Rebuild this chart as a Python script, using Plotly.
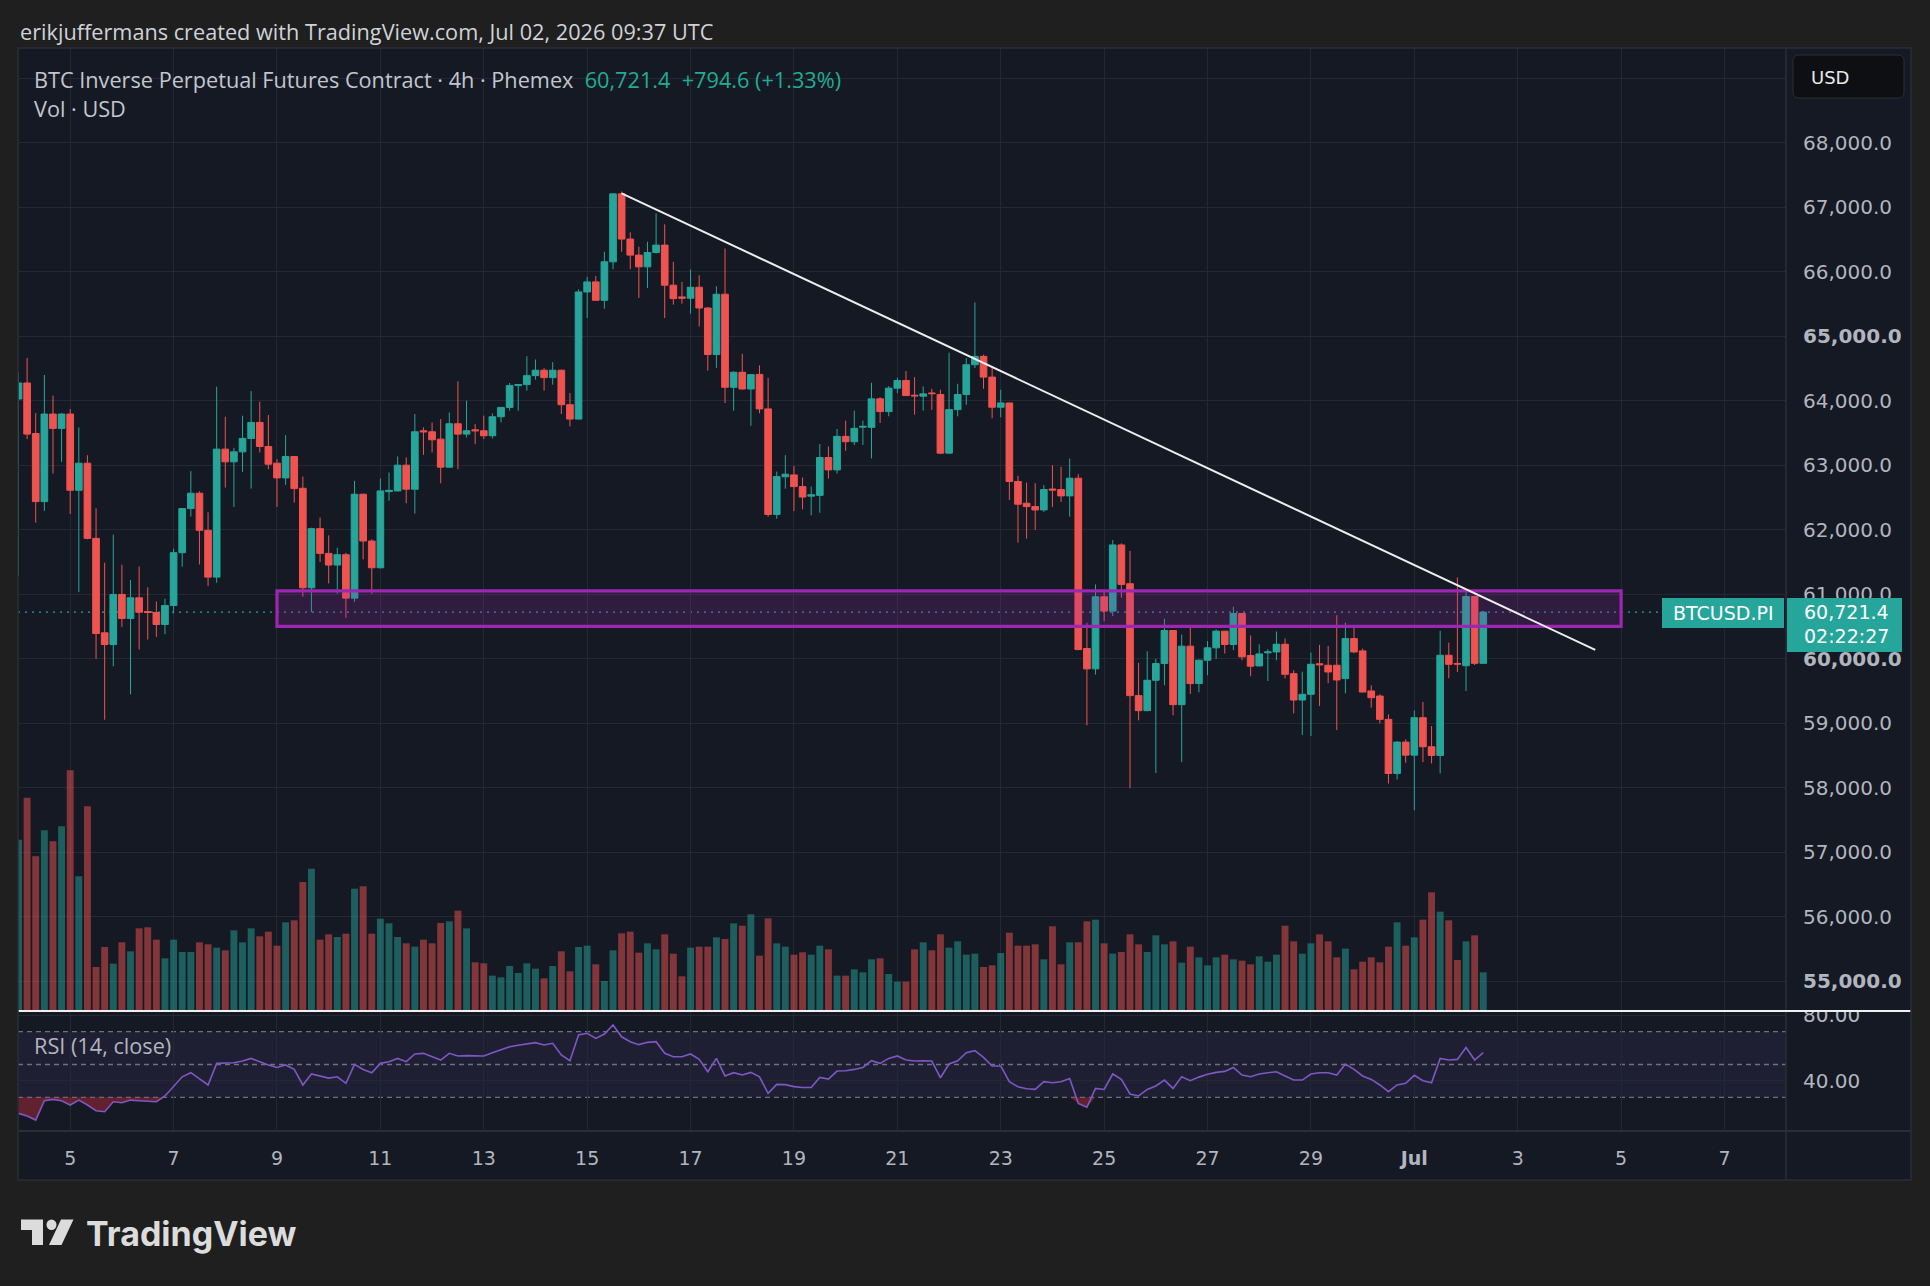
import plotly.graph_objects as go
import pandas as pd

W, H = 1930, 1286

# ---------------- data ----------------
BAR_START = "2026-06-04 00:00"
BAR_FREQ = "4h"

OPEN = [64026,64275,63492,62435,63793,63570,63793,62611,63031,61865,
        60400,60218,60995,60622,60943,60730,60715,60529,60824,61643,
        62327,62565,61990,61264,63249,63052,63207,63415,63663,63290,
        63031,62803,63135,62642,61099,62016,61632,61451,61612,60938,
        62549,61824,61409,62590,62601,63000,62627,63533,63518,63404,
        62969,63643,63482,63549,63534,63456,63751,63896,64234,64250,
        64389,64473,64358,64473,63938,63715,65687,65843,65557,66154,
        67208,66507,66258,66076,66299,66413,65791,65610,65590,65760,
        65438,64716,65651,64208,64441,64182,64408,63873,62236,62820,
        62849,62668,62520,62532,63119,62927,63447,63364,63590,63587,
        64029,63831,64195,64314,64085,64070,64120,64096,63187,63862,
        64096,64558,64688,64366,63899,63964,62747,62410,62358,62306,
        62630,62622,62524,62798,60157,59841,60960,60737,61763,61162,
        59426,59193,59664,59924,60436,59286,60193,59613,59975,60167,
        60426,60219,60700,60048,59887,60090,60104,60223,59767,59358,
        59446,59920,59897,59897,59690,60311,60120,59498,59420,59058,
        58218,58705,58503,59084,58633,58498,60052,59925,59890,60964,
        59926.8]
HIGH = [64440,64663,63808,64399,64078,63808,63870,63586,63155,62332,
        61487,61922,61456,61218,61430,61104,60886,60928,61705,62330,
        62907,62596,62270,64218,63751,63269,63767,64150,63984,63777,
        63093,63466,63140,62824,62030,62187,61912,61720,61643,62757,
        62560,61850,62793,62886,63135,63119,63793,63586,63663,63715,
        63819,64300,64000,63637,63767,63803,63900,64275,64260,64690,
        64639,64504,64597,64483,64120,65728,65920,65936,66310,67215,
        67244,66611,66388,66465,66907,66735,66154,65843,66035,65946,
        65450,65775,66362,64457,64727,64410,64548,64356,62901,63156,
        62990,62808,62668,63327,63291,63561,63691,63847,63691,64278,
        64055,64226,64356,64460,64366,64221,64184,64169,64745,64262,
        64662,65525,64714,64538,64169,63970,62835,62731,62721,62690,
        63000,62975,63104,62861,60556,61151,61032,61840,61788,61669,
        59934,60115,59996,60618,60440,60374,60478,59986,60271,60452,
        60430,60804,60705,60359,60223,60146,60420,60311,59819,59798,
        60094,60213,60197,60674,60560,60482,60156,59586,59446,59135,
        58721,58747,59197,59327,58954,60430,60249,61259,61068,60974,
        60741]
LOW = [61280,63404,62109,62290,62870,63052,62244,61031,61850,59995,
       59052,59881,60492,59446,60140,60296,60337,60378,60700,61425,
       62202,61461,61124,61176,62653,62352,62896,62637,63197,62938,
       62352,62694,62420,60959,60720,61498,61166,61005,60632,60881,
       61539,61005,61400,62446,62595,62410,62249,63161,63197,62720,
       62960,62938,63430,63326,63404,63415,63663,63845,63844,64156,
       64327,64156,64249,63793,63601,63710,65282,65550,65427,66040,
       66310,66040,65594,65749,66284,65282,65490,65505,65350,65152,
       64467,64509,63964,63844,64171,63611,63805,62200,62169,62636,
       62288,62314,62221,62262,62792,62870,63223,63312,63312,63104,
       63655,63758,64117,64075,63784,63847,63857,63171,63180,63758,
       63935,64506,64184,63727,63743,62462,61799,61861,61996,62275,
       62353,62431,62203,60130,58965,59753,60581,60659,60944,57991,
       59043,59185,58225,59587,59121,58395,59452,59478,59742,59996,
       60079,60131,59975,59727,59880,59653,59975,59695,59151,58814,
       58799,59265,59617,58892,59462,60083,59475,59239,58996,58063,
       58125,58384,57649,58395,58374,58218,59695,59793,59498,59900,
       59920]
CLOSE = [64275,63482,62435,63793,63570,63793,62611,63031,61865,60389,
         60218,60995,60622,60943,60720,60715,60529,60824,61643,62327,
         62565,61990,61264,63249,63052,63207,63415,63663,63290,63016,
         62803,63135,62637,61099,62016,61632,61451,61612,60938,62549,
         61824,61409,62601,62610,63000,62627,63518,63518,63394,62969,
         63643,63482,63534,63534,63456,63751,63896,64234,64250,64389,
         64473,64358,64473,63938,63715,65687,65843,65557,66154,67208,
         66507,66258,66076,66299,66413,65791,65583,65590,65760,65438,
         64716,65651,64208,64441,64182,64405,63873,62236,62823,62860,
         62668,62506,62540,63119,62927,63447,63364,63571,63602,64029,
         63831,64195,64314,64080,64075,64106,64110,63187,63862,64096,
         64558,64688,64366,63899,63966,62747,62395,62358,62306,62622,
         62615,62524,62798,60141,59841,60960,60737,61763,61151,59426,
         59193,59664,59924,60436,59286,60193,59613,59975,60167,60426,
         60219,60700,60027,59882,60073,60104,60223,59757,59358,59446,
         59912,59905,59793,59669,60311,60104,59482,59394,59058,58218,
         58705,58503,59084,58633,58498,60052,59912,59915,60964,59926.8,
         60721.4]
VOLUME = [51.4,64.0,46.4,54.2,50.9,55.4,72.2,40.4,61.4,13.2,
          19.2,14.2,20.6,17.9,24.8,25.1,21.4,15.8,21.4,17.7,
          17.7,20.6,20.0,19.0,18.2,24.2,20.6,24.8,22.4,23.8,
          19.6,26.6,27.2,38.7,42.7,21.4,23.0,22.2,23.2,36.7,
          37.4,23.2,27.7,26.3,22.2,20.3,19.3,21.4,20.3,26.4,
          26.9,30.1,24.8,14.6,14.3,10.6,10.1,13.5,11.4,14.3,
          12.7,9.8,13.5,17.9,11.9,19.2,19.6,14.0,9.0,18.2,
          23.3,23.8,17.5,20.3,18.5,23.0,17.2,10.4,19.0,19.3,
          19.3,22.1,21.6,26.3,25.6,29.0,16.6,27.8,20.3,19.3,
          16.9,17.6,16.9,19.6,18.5,10.6,10.6,12.5,11.6,15.5,
          15.8,11.1,8.8,8.8,18.5,20.6,18.2,23.0,19.0,20.9,
          16.9,17.2,13.2,13.7,17.4,23.5,19.6,19.6,20.0,15.5,
          25.4,14.0,20.6,20.6,26.9,27.4,20.3,17.2,17.7,23.0,
          20.0,17.7,22.7,20.0,20.9,14.5,19.3,16.1,13.7,16.1,
          16.9,15.5,15.1,14.0,16.4,14.8,16.9,25.6,20.9,17.2,
          20.3,23.0,20.9,16.1,18.7,12.5,14.8,16.1,14.6,19.3,
          26.6,19.6,22.1,27.4,35.6,29.8,27.2,15.3,20.9,22.7,
          11.6]
RSI = [20.2,18.6,16.1,27.9,28.7,27.9,25.3,28.3,25.3,21.8,
       21.2,27.3,26.7,28.3,27.9,27.5,27.3,30.8,36.9,42.5,
       45.0,41.5,37.5,50.7,50.7,51.1,52.1,53.7,51.7,49.7,
       48.2,49.7,47.0,37.5,44.2,43.0,41.7,42.5,38.5,50.1,
       47.0,45.0,50.7,51.7,53.7,51.7,56.4,56.8,54.7,52.7,
       56.8,55.2,55.4,55.4,55.2,57.2,58.8,60.8,61.7,62.5,
       63.3,61.9,62.9,55.8,52.3,68.0,69.0,65.9,68.6,74.1,
       66.9,63.9,62.1,63.5,63.9,56.8,54.7,54.7,56.4,53.1,
       45.6,53.7,43.0,45.0,43.6,45.2,42.5,32.4,37.9,37.7,
       36.5,36.0,36.0,42.1,41.1,46.0,46.2,47.0,48.2,52.3,
       50.7,53.7,55.2,52.7,52.1,52.3,52.1,41.9,50.3,52.3,
       57.2,58.4,54.3,49.1,49.1,39.5,36.4,35.2,34.8,39.5,
       38.9,39.5,41.5,26.3,23.9,35.4,34.8,44.2,40.9,32.0,
       30.8,34.8,36.9,40.5,35.4,42.5,40.1,42.3,44.0,45.2,
       45.8,48.2,43.6,42.5,44.2,45.0,45.6,43.0,40.5,40.5,
       44.2,45.0,45.0,43.6,50.3,47.0,43.0,40.9,37.5,33.4,
       37.5,38.5,43.4,40.1,38.9,53.7,52.7,53.1,60.4,52.7,
       57.2]

DAY_TICKS = ["2026-06-05", "2026-06-07", "2026-06-09", "2026-06-11", "2026-06-13",
             "2026-06-15", "2026-06-17", "2026-06-19", "2026-06-21", "2026-06-23",
             "2026-06-25", "2026-06-27", "2026-06-29", "2026-07-01", "2026-07-03",
             "2026-07-05", "2026-07-07"]
DAY_LABELS = ["5", "7", "9", "11", "13", "15", "17", "19", "21", "23", "25", "27",
              "29", "<b>Jul</b>", "3", "5", "7"]
PRICE_TICKS = [55000, 56000, 57000, 58000, 59000, 60000, 61000, 62000,
               63000, 64000, 65000, 66000, 67000, 68000, 69000]
PRICE_LABELS = ["<b>55,000.0</b>", "56,000.0", "57,000.0", "58,000.0", "59,000.0",
                "<b>60,000.0</b>", "61,000.0", "62,000.0", "63,000.0", "64,000.0",
                "<b>65,000.0</b>", "66,000.0", "67,000.0", "68,000.0", ""]
RSI_TICKS = [40, 80]
RSI_LABELS = ["40.00", "80.00"]
RSI_LEVELS = [70, 50, 30]
ZONE_TIMES = ["2026-06-09 00:00", "2026-07-05 00:00"]
ZONE_PRICES = [60500, 61050]
TREND_TIMES = ["2026-06-15 16:00", "2026-07-04 12:00"]
TREND_PRICES = [67217, 60135]
SYMBOL = "BTCUSD.PI"
TITLE = "BTC Inverse Perpetual Futures Contract \u00b7 4h \u00b7 Phemex"
CREDIT = "erikjuffermans created with TradingView.com, Jul 02, 2026 09:37 UTC"
COUNTDOWN = "02:22:27"

# ---------------- style ----------------
OUTER = "#1f1f1f"
PANEL = "#151924"
GRID = "#242833"
SEP = "#2a2e39"
UP = "#26a69a"
DOWN = "#ef5350"
TXT = "#b2b5be"
PRICE_FONT = dict(family="DejaVu Sans", size=20, color=TXT)
DATE_FONT = dict(family="DejaVu Sans", size=19, color=TXT)
UI_FONT = "Open Sans"
UI_SIZE = 21.7


def px(x):
    return x / W


def py(y):
    return 1 - y / H


times = pd.date_range(BAR_START, periods=len(CLOSE), freq=BAR_FREQ)
XRANGE = ["2026-06-03 23:46", "2026-07-08 04:33"]
XDOM = [px(18), px(1786)]
PRICE_DOM = [py(1011), py(48)]
RSI_DOM = [py(1131), py(1012)]

last = CLOSE[-1]
chg = CLOSE[-1] - CLOSE[-2]
pct = chg / CLOSE[-2] * 100

fig = go.Figure()

vol_colors = ["rgba(38,166,154,0.5)" if c >= o else "rgba(239,83,80,0.5)"
              for o, c in zip(OPEN, CLOSE)]
fig.add_trace(go.Bar(x=times, y=VOLUME, marker=dict(color=vol_colors, line=dict(width=0)),
                     xaxis="x", yaxis="y3", hoverinfo="skip"))

fig.add_trace(go.Candlestick(
    x=times, open=OPEN, high=HIGH, low=LOW, close=CLOSE, xaxis="x", yaxis="y",
    increasing=dict(line=dict(color=UP, width=1), fillcolor=UP),
    decreasing=dict(line=dict(color=DOWN, width=1), fillcolor=DOWN),
    whiskerwidth=0, hoverinfo="skip"))

# RSI oversold fill
fig.add_trace(go.Scatter(x=times, y=[30] * len(RSI), mode="lines", line=dict(width=0),
                         xaxis="x2", yaxis="y2", hoverinfo="skip"))
fig.add_trace(go.Scatter(x=times, y=[min(v, 30) for v in RSI], mode="lines",
                         line=dict(width=0), fill="tonexty",
                         fillcolor="rgba(190,45,60,0.45)",
                         xaxis="x2", yaxis="y2", hoverinfo="skip"))
fig.add_trace(go.Scatter(x=times, y=RSI, mode="lines", line=dict(color="#7e57c2", width=1.6),
                         xaxis="x2", yaxis="y2", hoverinfo="skip"))

shapes = []
# panel background
shapes.append(dict(type="rect", xref="paper", yref="paper", x0=px(18), x1=px(1911),
                   y0=py(1180), y1=py(48), fillcolor=PANEL, line=dict(width=0), layer="below"))
# RSI band and levels
shapes.append(dict(type="rect", xref="x2 domain", yref="y2", x0=0, x1=1,
                   y0=RSI_LEVELS[2], y1=RSI_LEVELS[0], fillcolor="rgba(126,87,194,0.1)",
                   line=dict(width=0), layer="below"))
for lv in RSI_LEVELS:
    shapes.append(dict(type="line", xref="x2 domain", yref="y2", x0=0, x1=1, y0=lv, y1=lv,
                       line=dict(color="rgba(120,123,134,0.9)", width=1.3, dash="5px,4px"),
                       layer="below"))
# last price dotted line
shapes.append(dict(type="line", xref="paper", yref="y", x0=px(18), x1=px(1662), y0=last, y1=last,
                   line=dict(color=UP, width=1.3, dash="2px,5px"), layer="below"))
# zone rectangle
shapes.append(dict(type="rect", xref="x", yref="y", x0=ZONE_TIMES[0], x1=ZONE_TIMES[1],
                   y0=ZONE_PRICES[0], y1=ZONE_PRICES[1], fillcolor="rgba(156,39,176,0.2)",
                   line=dict(color="#9c27b0", width=3.2), layer="above"))
# trend line
shapes.append(dict(type="line", xref="x", yref="y", x0=TREND_TIMES[0], x1=TREND_TIMES[1],
                   y0=TREND_PRICES[0], y1=TREND_PRICES[1],
                   line=dict(color="#eeeeee", width=2), layer="above"))
# separators
shapes.append(dict(type="line", xref="paper", yref="paper", x0=px(1786), x1=px(1786),
                   y0=py(1180), y1=py(48), line=dict(color=SEP, width=1.5), layer="above"))
shapes.append(dict(type="line", xref="paper", yref="paper", x0=px(18), x1=px(1911),
                   y0=py(1131), y1=py(1131), line=dict(color=SEP, width=2), layer="above"))
shapes.append(dict(type="rect", xref="paper", yref="paper", x0=px(1787), x1=px(1911),
                   y0=py(1011), y1=py(1000), fillcolor=PANEL, line=dict(width=0), layer="above"))
shapes.append(dict(type="line", xref="paper", yref="paper", x0=px(18), x1=px(1911),
                   y0=py(1011), y1=py(1011), line=dict(color="#f0f0f0", width=2), layer="above"))
shapes.append(dict(type="rect", xref="paper", yref="paper", x0=px(18), x1=px(1911),
                   y0=py(1180), y1=py(48), line=dict(color=SEP, width=1.5), layer="above"))


def rrect(x0, y0, x1, y1, r):
    pts = [("M", x0 + r, y0), ("L", x1 - r, y0), ("Q", x1, y0, x1, y0 + r),
           ("L", x1, y1 - r), ("Q", x1, y1, x1 - r, y1), ("L", x0 + r, y1),
           ("Q", x0, y1, x0, y1 - r), ("L", x0, y0 + r), ("Q", x0, y0, x0 + r, y0)]
    out = []
    for p in pts:
        cmd = p[0]
        coords = p[1:]
        s = " ".join(f"{px(coords[k]):.5f},{py(coords[k + 1]):.5f}" for k in range(0, len(coords), 2))
        out.append(f"{cmd} {s}")
    return " ".join(out) + " Z"


def poly(points):
    return "M " + " L ".join(f"{px(a):.5f},{py(b):.5f}" for a, b in points) + " Z"


# USD button
shapes.append(dict(type="path", xref="paper", yref="paper", path=rrect(1793, 55, 1904, 98, 6),
                   fillcolor="#0e0f12", line=dict(color="#2c2f36", width=1), layer="above"))
# price label boxes
shapes.append(dict(type="rect", xref="paper", yref="y", ysizemode="pixel", yanchor=last,
                   x0=px(1787), x1=px(1902), y0=-40, y1=14, fillcolor=UP,
                   line=dict(width=0), layer="above"))
shapes.append(dict(type="rect", xref="paper", yref="y", ysizemode="pixel", yanchor=last,
                   x0=px(1662), x1=px(1784), y0=-16, y1=14, fillcolor=UP,
                   line=dict(width=0), layer="above"))
# TradingView logo
LOGO = "#dcdcdc"
shapes.append(dict(type="path", xref="paper", yref="paper",
                   path=poly([(21, 1219.5), (43, 1219.5), (43, 1245), (32, 1245), (32, 1230), (21, 1230)]),
                   fillcolor=LOGO, line=dict(width=0), layer="above"))
shapes.append(dict(type="circle", xref="paper", yref="paper", x0=px(46.5), x1=px(56.5),
                   y0=py(1230), y1=py(1219.5), fillcolor=LOGO, line=dict(width=0), layer="above"))
shapes.append(dict(type="path", xref="paper", yref="paper",
                   path=poly([(61, 1219.5), (73.5, 1219.5), (61.5, 1245), (49, 1245)]),
                   fillcolor=LOGO, line=dict(width=0), layer="above"))

annotations = [
    dict(xref="paper", yref="paper", x=px(18), y=py(31), xanchor="left", yanchor="middle",
         text=CREDIT, showarrow=False, font=dict(family=UI_FONT, size=UI_SIZE, color="#cfd2d9")),
    dict(xref="paper", yref="paper", x=px(32), y=py(79), xanchor="left", yanchor="middle",
         text=f"{TITLE}\u00a0\u00a0<span style='color:#22ab94'>{last:,.1f}\u00a0\u00a0"
              f"{chg:+,.1f} ({pct:+.2f}%)</span>",
         showarrow=False, font=dict(family=UI_FONT, size=UI_SIZE, color="#c3c6ce")),
    dict(xref="paper", yref="paper", x=px(32), y=py(108), xanchor="left", yanchor="middle",
         text="Vol \u00b7 USD", showarrow=False, font=dict(family=UI_FONT, size=UI_SIZE, color="#c3c6ce")),
    dict(xref="paper", yref="paper", x=px(32), y=py(1045), xanchor="left", yanchor="middle",
         text="RSI (14, close)", showarrow=False, font=dict(family=UI_FONT, size=UI_SIZE, color=TXT)),
    dict(xref="paper", yref="paper", x=px(1809), y=py(77), xanchor="left", yanchor="middle",
         text="USD", showarrow=False, font=dict(family="DejaVu Sans", size=18, color="#e8e8e8")),
    dict(xref="paper", yref="y", x=px(1802), y=last, xanchor="left", yanchor="middle",
         text=f"{last:,.1f}", showarrow=False, font=dict(family="DejaVu Sans", size=19, color="#ffffff")),
    dict(xref="paper", yref="y", x=px(1802), y=last, yshift=-24, xanchor="left", yanchor="middle",
         text=COUNTDOWN, showarrow=False, font=dict(family="DejaVu Sans", size=19, color="#ffffff")),
    dict(xref="paper", yref="y", x=px(1723), y=last, yshift=-1, xanchor="center", yanchor="middle",
         text=SYMBOL, showarrow=False, font=dict(family="DejaVu Sans", size=19, color="#ffffff")),
    dict(xref="paper", yref="paper", x=px(84), y=py(1233), xanchor="left", yanchor="middle",
         text="<b>TradingView</b>", showarrow=False, font=dict(family="Inter", size=34, color=LOGO)),
]

fig.update_layout(
    width=W, height=H, autosize=False,
    margin=dict(l=0, r=0, t=0, b=0, pad=0, autoexpand=False),
    paper_bgcolor=OUTER, plot_bgcolor=PANEL, showlegend=False,
    boxgap=0.12, boxgroupgap=0.12, bargap=0.2,
    shapes=shapes, annotations=annotations,
    xaxis=dict(domain=XDOM, anchor="y", type="date", range=XRANGE,
               rangeslider=dict(visible=False), tickmode="array", tickvals=DAY_TICKS,
               showticklabels=False, showgrid=True, gridcolor=GRID, gridwidth=1,
               zeroline=False, showline=False, ticks="", automargin=False),
    xaxis2=dict(domain=XDOM, anchor="y2", type="date", matches="x", tickmode="array",
                tickvals=DAY_TICKS, ticktext=DAY_LABELS, showgrid=True, gridcolor=GRID,
                gridwidth=1, zeroline=False, showline=False, ticks="",
                tickfont=DATE_FONT, ticklabelstandoff=14, automargin=False),
    yaxis=dict(domain=PRICE_DOM, anchor="x", side="right", range=[54534.7, 69470.3],
               tickmode="array", tickvals=PRICE_TICKS, ticktext=PRICE_LABELS,
               showgrid=True, gridcolor=GRID, gridwidth=1, zeroline=False, showline=False,
               ticks="", tickfont=PRICE_FONT, ticklabelstandoff=16, automargin=False),
    yaxis3=dict(overlaying="y", anchor="x", range=[0, 288.9], visible=False),
    yaxis2=dict(domain=RSI_DOM, anchor="x2", side="right", range=[9.45, 82.0],
                tickmode="array", tickvals=RSI_TICKS, ticktext=RSI_LABELS,
                showgrid=True, gridcolor=GRID, gridwidth=1, zeroline=False, showline=False,
                ticks="", tickfont=PRICE_FONT, ticklabelstandoff=16, automargin=False),
)

fig.write_html("out.html")
